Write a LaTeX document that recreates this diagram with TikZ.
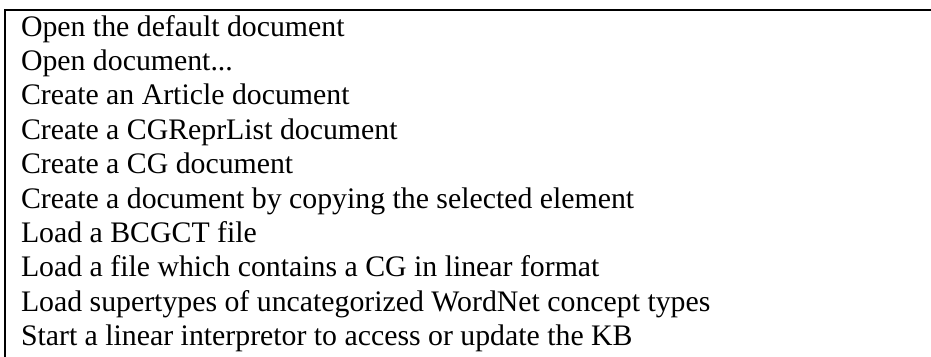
\documentclass[tikz,border=0pt]{standalone}
\usepackage{fontspec}
\setmainfont{Liberation Serif}
\begin{document}
\begin{tikzpicture}[x=1pt,y=1pt,
  entry/.style={anchor=base west,inner sep=0pt,outer sep=0pt,
    font=\fontsize{29.8}{34}\selectfont},
  frame/.style={line width=1.6pt,draw=black}]
\useasboundingbox (0,0) rectangle (931,-356);
% open frame: left and top edges only
\coordinate (bl) at (5,-358);
\coordinate (tl) at (5,-10);
\coordinate (tr) at (933,-10);
\draw[frame,line cap=rect] (bl) -- (tl) -- (tr);
% menu entries, one per line
\node[entry] (l0) at (21,-36.0) {Open the default document};
\node[entry] (l1) at (21,-70.4) {Open document...};
\node[entry] (l2) at (21,-104.8) {Create an Article document};
\node[entry] (l3) at (21,-139.2) {Create a CGReprList document};
\node[entry] (l4) at (21,-173.6) {Create a CG document};
\node[entry] (l5) at (21,-208.0) {Create a document by copying the selected element};
\node[entry] (l6) at (21,-242.4) {Load a BCGCT file};
\node[entry] (l7) at (21,-276.8) {Load a file which contains a CG in linear format};
\node[entry] (l8) at (21,-311.2) {Load supertypes of uncategorized WordNet concept types};
\node[entry] (l9) at (21,-345.6) {Start a linear interpretor to access or update the KB};
\end{tikzpicture}
\end{document}
